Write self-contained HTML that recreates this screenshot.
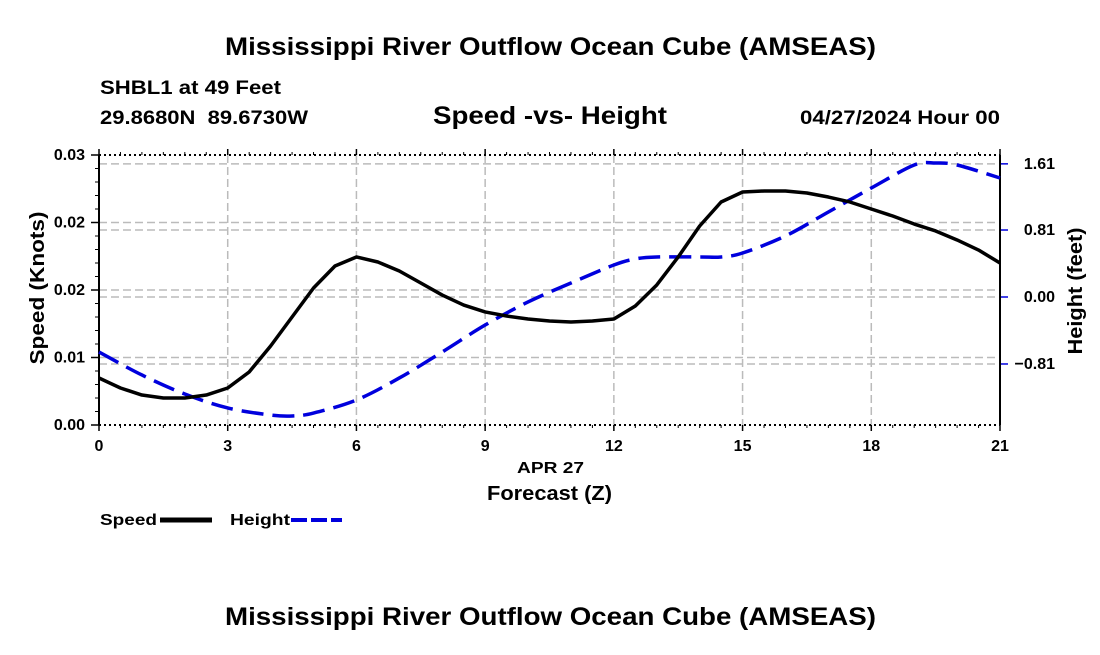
<!DOCTYPE html>
<html><head><meta charset="utf-8"><style>
body{margin:0;background:#fff;width:1100px;height:650px;overflow:hidden}
svg{font-family:"Liberation Sans",Arial,sans-serif;font-weight:bold}
</style></head><body>
<svg id="c" width="1100" height="650">
<text x="225" y="55" font-size="25" textLength="651" lengthAdjust="spacingAndGlyphs">Mississippi River Outflow Ocean Cube (AMSEAS)</text>
<text x="100" y="94" font-size="19" textLength="181" lengthAdjust="spacingAndGlyphs">SHBL1 at 49 Feet</text>
<text x="100" y="124" font-size="19" textLength="208" lengthAdjust="spacingAndGlyphs" xml:space="preserve">29.8680N  89.6730W</text>
<text x="433" y="124" font-size="25" textLength="234" lengthAdjust="spacingAndGlyphs">Speed -vs- Height</text>
<text x="800" y="124" font-size="19" textLength="200" lengthAdjust="spacingAndGlyphs">04/27/2024 Hour 00</text>
<g id="grid"></g><g id="axes"></g><g id="series"></g>
<text x="517" y="473" font-size="16" textLength="67" lengthAdjust="spacingAndGlyphs">APR 27</text>
<text x="487" y="500" font-size="20" textLength="125" lengthAdjust="spacingAndGlyphs">Forecast (Z)</text>
<text transform="translate(44,288) rotate(-90)" text-anchor="middle" font-size="20" textLength="153" lengthAdjust="spacingAndGlyphs">Speed (Knots)</text>
<text transform="translate(1082,291) rotate(-90)" text-anchor="middle" font-size="20" textLength="127" lengthAdjust="spacingAndGlyphs">Height (feet)</text>
<g><text x="100" y="525" font-size="16" textLength="57" lengthAdjust="spacingAndGlyphs">Speed</text><line x1="160" y1="520" x2="212" y2="520" stroke="#000" stroke-width="5"/></g>
<g><text x="230" y="525" font-size="16" textLength="60" lengthAdjust="spacingAndGlyphs">Height</text><line x1="291" y1="520" x2="342" y2="520" stroke="#0000dd" stroke-width="4" stroke-dasharray="16,4"/></g>
<text x="225" y="625" font-size="25" textLength="651" lengthAdjust="spacingAndGlyphs">Mississippi River Outflow Ocean Cube (AMSEAS)</text>
</svg>
<script>
const hours=[0,0.5,1,1.5,2,2.5,3,3.5,4,4.5,5,5.5,6,6.5,7,7.5,8,8.5,9,9.5,10,10.5,11,11.5,12,12.5,13,13.5,14,14.5,15,15.5,16,16.5,17,17.5,18,18.5,19,19.5,20,20.5,21];
const speed=[0.00522,0.00411,0.00333,0.0030,0.0030,0.00333,0.00411,0.00589,0.00878,0.0120,0.01522,0.01767,0.01867,0.01811,0.01711,0.01578,0.01444,0.01333,0.01256,0.01211,0.01178,0.01156,0.01144,0.01156,0.01178,0.01322,0.01556,0.01867,0.02211,0.02478,0.02589,0.026,0.026,0.02578,0.02533,0.02478,0.024,0.02322,0.02233,0.02156,0.02056,0.01944,0.018];
const hHours=[0,1,2,3,4,4.5,5,6,7,8,9,10,11,12,12.5,13,14,14.5,15,16,17,18,19,19.5,20,21];
const height=[-0.665,-0.943,-1.173,-1.342,-1.427,-1.439,-1.403,-1.245,-0.979,-0.665,-0.339,-0.06,0.169,0.387,0.46,0.484,0.484,0.484,0.532,0.738,1.028,1.318,1.596,1.62,1.596,1.439];
const xTicks=[0,3,6,9,12,15,18,21];
const leftTicks=[0,0.0075,0.015,0.0225,0.03];
const leftLabels=["0.00","0.01","0.02","0.02","0.03"];
const rightTicks=[1.61,0.81,0,-0.81];
const rightLabels=["1.61","0.81","0.00","\u22120.81"];
const X0=99,X1=1000,Y0=425,Y1=155;
const xs=h=>X0+(X1-X0)*h/21;
const ys=s=>Y0-(Y0-Y1)*s/0.03;
const yh=h=>297-h*82.7;
const NS="http://www.w3.org/2000/svg";
function mk(t,a,p){const e=document.createElementNS(NS,t);for(const k in a)e.setAttribute(k,a[k]);p.appendChild(e);return e;}
const grid=document.getElementById('grid'),axes=document.getElementById('axes'),ser=document.getElementById('series');
const gs={stroke:"#bbb","stroke-width":1.5,"stroke-dasharray":"8,4"};
xTicks.forEach((t,i)=>{
 if(i>0&&i<xTicks.length-1){const l=mk('line',Object.assign({x1:xs(t),x2:xs(t),y1:Y1,y2:Y0},gs),grid);
 
 }
 const tx=mk('text',{x:xs(t),y:Y0+26,"text-anchor":"middle","font-size":"16"},axes);tx.textContent=t;
 
 
 mk('line',{x1:xs(t),x2:xs(t),y1:Y0,y2:Y0+6,stroke:"#000","stroke-width":1.5},axes);
 mk('line',{x1:xs(t),x2:xs(t),y1:Y1,y2:Y1-6,stroke:"#000","stroke-width":1.5},axes);
});
leftTicks.forEach((t,i)=>{
 if(i>0&&i<leftTicks.length-1){const l=mk('line',Object.assign({x1:X0,x2:X1,y1:ys(t),y2:ys(t)},gs),grid);
 
 }
 mk('line',{x1:X0-8,x2:X0,y1:ys(t),y2:ys(t),stroke:"#000","stroke-width":1.5},axes);
 const tx=mk('text',{x:X0-14,y:ys(t)+5,"text-anchor":"end","font-size":"16"},axes);tx.textContent=leftLabels[i];
 
 
});
for(let k=0;k<=20;k++){const y=Y0-(Y0-Y1)*k/20;mk('line',{x1:X0-4,x2:X0,y1:y,y2:y,stroke:"#000","stroke-width":1},axes);}
rightTicks.forEach((t,i)=>{
 const l=mk('line',Object.assign({x1:X0,x2:X1,y1:yh(t),y2:yh(t)},gs),grid);
 
 
 mk('line',{x1:X1,x2:X1+8,y1:yh(t),y2:yh(t),stroke:"#0000dd","stroke-width":1.5},axes);
 const tx=mk('text',{x:1055,y:yh(t)+5,"text-anchor":"end","font-size":"16"},axes);tx.textContent=rightLabels[i];
 
 
});
for(let k=0;k<=42;k++){const x=X0+(X1-X0)*k/42;mk('line',{x1:x,x2:x,y1:Y0,y2:Y0+3,stroke:"#000"},axes);mk('line',{x1:x,x2:x,y1:Y1,y2:Y1-3,stroke:"#000"},axes);}
mk('line',{x1:X0,x2:X1,y1:Y1,y2:Y1,stroke:"#000","stroke-width":2,"stroke-dasharray":"2,3"},axes);
mk('line',{x1:X0,x2:X1,y1:Y0,y2:Y0,stroke:"#000","stroke-width":2,"stroke-dasharray":"2,3"},axes);
mk('line',{x1:X0,x2:X0,y1:Y1,y2:Y0,stroke:"#000","stroke-width":2},axes);
mk('line',{x1:X1,x2:X1,y1:Y1,y2:Y0,stroke:"#000","stroke-width":2},axes);
function smooth(pts){let d="M"+pts[0][0]+","+pts[0][1];for(let i=0;i<pts.length-1;i++){const p0=pts[i-1]||pts[i],p1=pts[i],p2=pts[i+1],p3=pts[i+2]||p2;
 d+=" C"+(p1[0]+(p2[0]-p0[0])/6)+","+(p1[1]+(p2[1]-p0[1])/6)+" "+(p2[0]-(p3[0]-p1[0])/6)+","+(p2[1]-(p3[1]-p1[1])/6)+" "+p2[0]+","+p2[1];}return d;}
const hl=mk('path',{d:smooth(hHours.map((h,i)=>[xs(h),yh(height[i])])),fill:"none",stroke:"#0000dd","stroke-width":3.5,"stroke-dasharray":"22,9"},ser);


const sl=mk('polyline',{points:hours.map((h,i)=>xs(h)+","+ys(speed[i])).join(" "),fill:"none",stroke:"#000","stroke-width":3.5,"stroke-linejoin":"round"},ser);


</script>
</body></html>
